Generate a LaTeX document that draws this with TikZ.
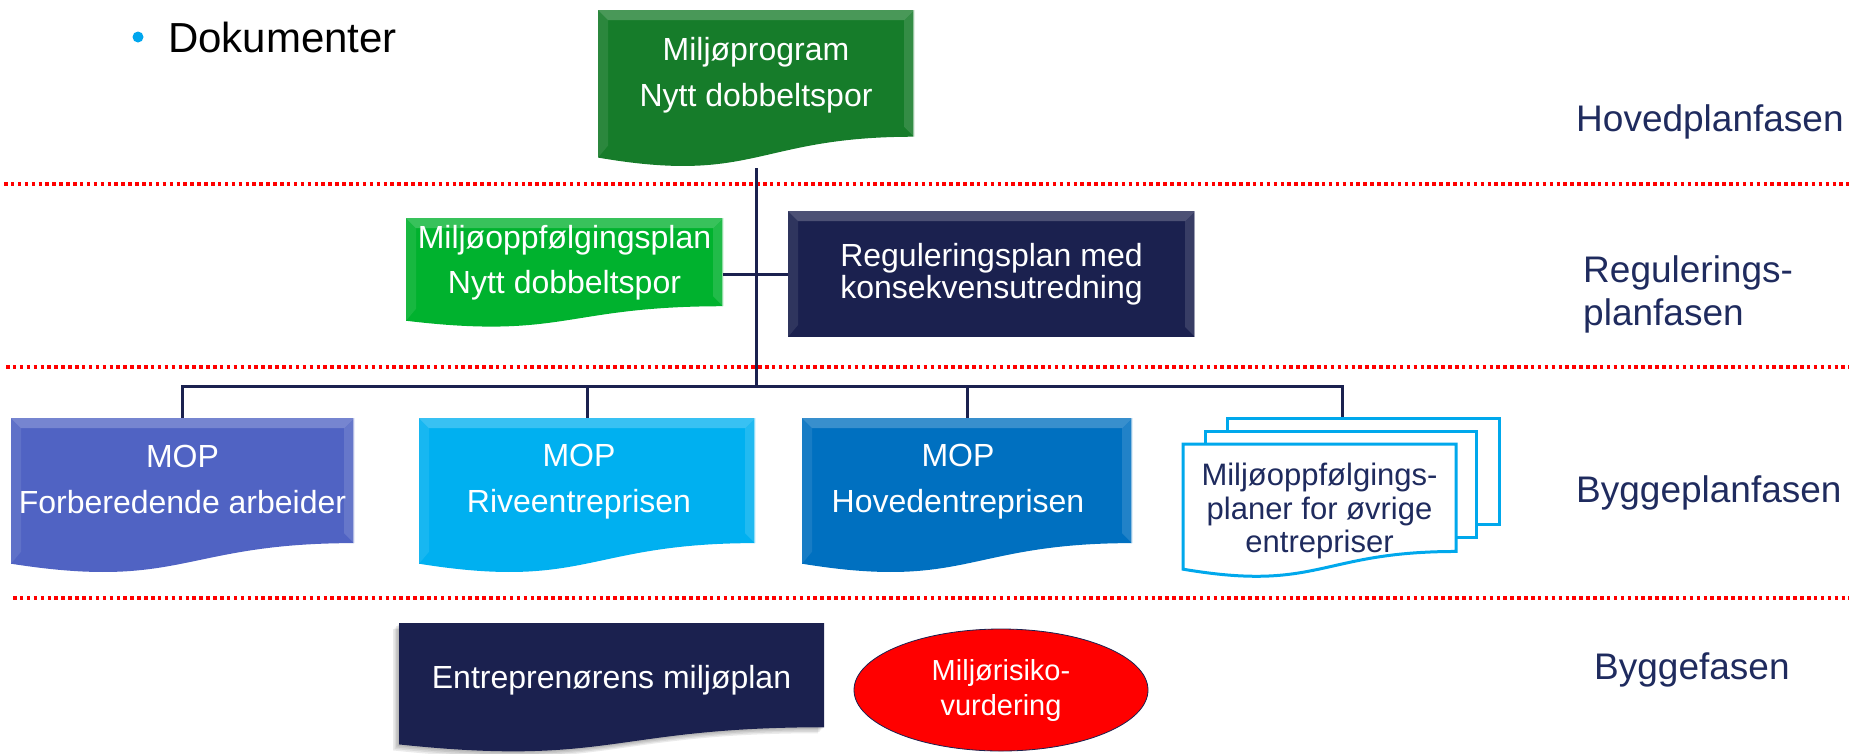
\documentclass[tikz,border=0pt]{standalone}
\usepackage{fontspec}
\setmainfont{Liberation Sans}
\usetikzlibrary{shapes.geometric}
\definecolor{dkgreen}{RGB}{22,124,42}
\definecolor{brgreen}{RGB}{0,178,46}
\definecolor{navy}{RGB}{27,33,79}
\definecolor{periw}{RGB}{80,99,195}
\definecolor{cyanb}{RGB}{0,176,240}
\definecolor{midblue}{RGB}{0,112,192}
\definecolor{docblue}{RGB}{0,168,236}
\definecolor{lblnavy}{RGB}{31,43,94}
\definecolor{bulletblue}{RGB}{0,166,238}
\newcommand{\docshape}[5]{%
  \path[#5] ({#1},{#2}) -- ({#1+#3},{#2}) -- ({#1+#3},{#2+0.802*#4})
    .. controls ({#1+0.5*#3},{#2+0.802*#4}) and ({#1+0.5*#3},{#2+1.107*#4}) .. ({#1},{#2+0.934*#4}) -- cycle;}
\newcommand{\bevel}[5]{%
  \fill[white,opacity=.22] ({#1},{#2}) -- ({#1+#3},{#2}) -- ({#1+#3-10},{#2+10}) -- ({#1+10},{#2+10}) -- cycle;
  \fill[white,opacity=.09] ({#1},{#2}) -- ({#1+10},{#2+10}) -- ({#1+10},{#2+#4-12}) -- ({#1},{#2+#4}) -- cycle;
  \fill[white,opacity=.13] ({#1+#3},{#2}) -- ({#1+#3},{#2+#5}) -- ({#1+#3-10},{#2+#5-10}) -- ({#1+#3-10},{#2+10}) -- cycle;
  \draw[white,opacity=.5,line width=1.2pt] ({#1+#3-0.6},{#2}) -- ({#1+#3-0.6},{#2+#5});}
\begin{document}
\begin{tikzpicture}[x=1pt,y=-1pt,
  conn/.style={draw=navy,line width=3pt},
  phaseline/.style={draw=red,line width=3.5pt,dash pattern=on 3.5pt off 3.4pt},
  abox/.style={draw=none,inner sep=0pt,outer sep=0pt},
  wtext/.style={text=white,inner sep=0pt,align=center},
  docline/.style={draw=docblue,fill=white,line width=3pt},
  phase/.style={text=lblnavy,inner sep=0pt,font=\fontsize{37}{43}\selectfont,align=left}]
\useasboundingbox (0,0) rectangle (1849,753);

% phase separators
\draw[phaseline] (4,184) -- (1849,184);
\draw[phaseline] (6,367) -- (1849,367);
\draw[phaseline] (13,598) -- (1849,598);

% anchor boxes
\node[abox,minimum width=316pt,minimum height=158pt] (mpbox) at (756,89) {};
\node[abox,minimum width=317pt,minimum height=110pt] (mopgbox) at (564.5,274) {};
\node[abox,minimum width=343pt,minimum height=156pt] (mop1box) at (182.5,496) {};
\node[abox,minimum width=336pt,minimum height=156pt] (mop2box) at (587,496) {};
\node[abox,minimum width=330pt,minimum height=156pt] (mop3box) at (967,496) {};
\node[abox,minimum width=316pt,minimum height=156pt] (mopxbox) at (1342,496) {};
\coordinate (bus) at (756,386);

% connectors
\draw[conn] (mpbox.south) -- (bus);
\draw[conn] (mop1box.north) |- (bus) -| (mopxbox.north);
\draw[conn] (mop2box.north) -- (mop2box.north |- bus);
\draw[conn] (mop3box.north) -- (mop3box.north |- bus);

% Miljoprogram
\docshape{598}{10}{316}{158}{fill=dkgreen}
\bevel{598}{10}{316}{147.6}{126.7}
\node[wtext,font=\fontsize{32}{46}\selectfont] (mp) at (756,75) {Miljøprogram\\Nytt dobbeltspor};

% Miljooppfolgingsplan
\docshape{406}{218}{317}{110}{fill=brgreen}
\bevel{406}{218}{317}{102.7}{88.2}
\node[wtext,font=\fontsize{32}{45}\selectfont] (mopg) at (564.5,263) {Miljøoppfølgingsplan\\Nytt dobbeltspor};

% Reguleringsplan
\node[rectangle,fill=navy,minimum width=407pt,minimum height=126pt,wtext,font=\fontsize{32}{32}\selectfont] (reg) at (991.5,274) {Reguleringsplan med\\konsekvensutredning};
\bevel{788}{211}{407}{126}{126}
\draw[conn] (mopgbox.east) -- (reg.west);

% MOP boxes
\docshape{11}{418}{343}{156}{fill=periw}
\bevel{11}{418}{343}{145.7}{125.1}
\node[wtext,font=\fontsize{32}{46}\selectfont] (mop1) at (182.5,479) {MOP\\Forberedende arbeider};

\docshape{419}{418}{336}{156}{fill=cyanb}
\bevel{419}{418}{336}{145.7}{125.1}
\node[wtext,font=\fontsize{32}{46}\selectfont] (mop2) at (579,482) {MOP\\Riveentreprisen};

\docshape{802}{418}{330}{156}{fill=midblue}
\bevel{802}{418}{330}{145.7}{125.1}
\node[wtext,font=\fontsize{32}{46}\selectfont] (mop3) at (958,482) {MOP\\Hovedentreprisen};

% stacked documents
\draw[docline] (1227,418) rectangle (1499,524);
\draw[docline] (1205,431) rectangle (1476,537);
\docshape{1183}{444}{273}{134}{docline}
\node[inner sep=0pt,align=center,text=lblnavy,font=\fontsize{31}{33.5}\selectfont] (mopx) at (1319.5,511) {Miljøoppfølgings-\\planer for øvrige\\entrepriser};

% Entreprenorens miljoplan
\foreach \i in {1,...,4} {\docshape{399-1.5*\i}{623+1.5*\i}{425}{130}{fill=black,opacity=0.08}}
\docshape{399}{623}{425}{130}{fill=navy}
\node[text=white,inner sep=0pt,font=\fontsize{32}{38}\selectfont,anchor=base] (emp) at (611.5,688) {Entreprenørens miljøplan};

% Miljorisikovurdering
\node[ellipse,fill=red,draw=navy,line width=0.8pt,minimum width=294pt,minimum height=122pt,text=white,align=center,inner sep=0pt,font=\fontsize{29}{35}\selectfont] (risk) at (1001,690) {Miljørisiko-\\vurdering};

% Dokumenter
\node[circle,fill=bulletblue,minimum size=11pt,inner sep=0pt] (bullet) at (138,37) {};
\node[inner sep=0pt,anchor=base west,font=\fontsize{42}{50}\selectfont] (dok) at (168,52) {Dokumenter};

% phase labels
\node[phase,anchor=base west] (ph1) at (1576,131) {Hovedplanfasen};
\node[phase,anchor=west] (ph2) at (1583,294) {Regulerings-\\planfasen};
\node[phase,anchor=base west] (ph3) at (1576,502) {Byggeplanfasen};
\node[phase,anchor=base west] (ph4) at (1594,679) {Byggefasen};
\end{tikzpicture}
\end{document}
